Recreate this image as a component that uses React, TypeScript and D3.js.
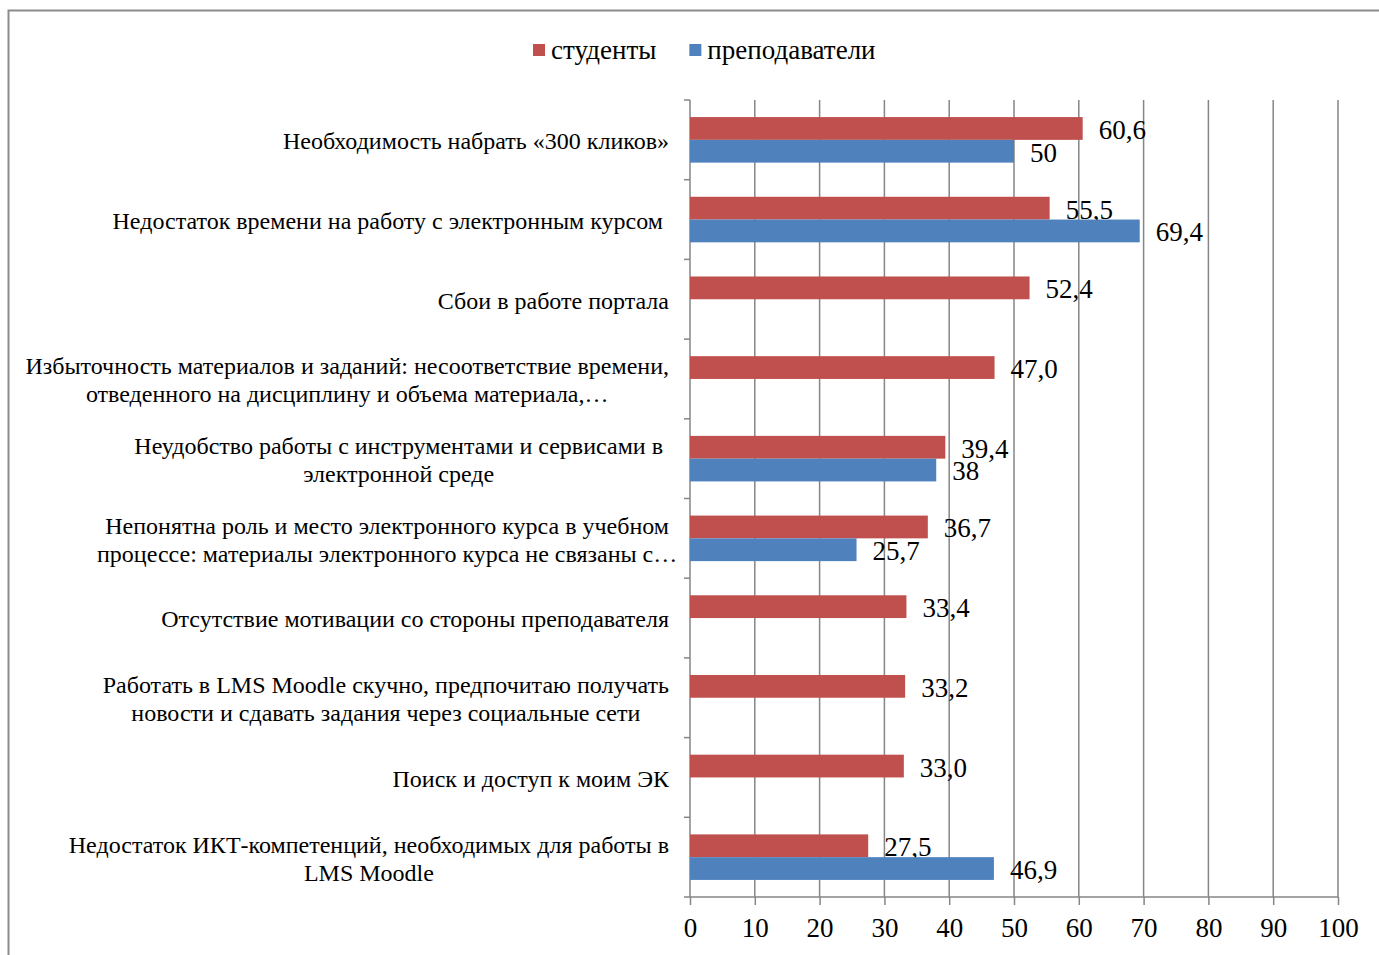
import React, { useRef, useEffect } from 'react';
import { select, scaleLinear, scaleBand, axisBottom, range } from 'd3';

// categories, top to bottom; each entry is the label lines
const categories: string[][] = [
    ['Необходимость набрать «300 кликов»'],
    ['Недостаток времени на работу с электронным курсом'],
    ['Сбои в работе портала'],
    ['Избыточность материалов и заданий: несоответствие времени,', 'отведенного на дисциплину и объема материала,…'],
    ['Неудобство работы с инструментами и сервисами в', 'электронной среде'],
    ['Непонятна роль и место электронного курса в учебном', 'процессе: материалы электронного курса не связаны с…'],
    ['Отсутствие мотивации со стороны преподавателя'],
    ['Работать в LMS Moodle скучно, предпочитаю получать', 'новости и сдавать задания через социальные сети'],
    ['Поиск и доступ к моим ЭК'],
    ['Недостаток ИКТ-компетенций, необходимых для работы в', 'LMS Moodle'],
];
// a few labels carry a trailing space in the source, which pushes them left a little
const labelShift: number[] = [0, 6, 0, 0, 6, 0, 0, 0, 0, 0];

const students: number[] = [60.6, 55.5, 52.4, 47.0, 39.4, 36.7, 33.4, 33.2, 33.0, 27.5];
const studentLabels: string[] = ['60,6', '55,5', '52,4', '47,0', '39,4', '36,7', '33,4', '33,2', '33,0', '27,5'];

const teachers: (number | null)[] = [50, 69.4, null, null, 38, 25.7, null, null, null, 46.9];
const teacherLabels: (string | null)[] = ['50', '69,4', null, null, '38', '25,7', null, null, null, '46,9'];

const xTicks: number[] = [0, 10, 20, 30, 40, 50, 60, 70, 80, 90, 100];

const seriesNames = ['студенты', 'преподаватели'];
const seriesColors = ['#C0504D', '#4F81BD'];

const W = 1379;
const H = 955;
const FONT = '"Liberation Serif", "Times New Roman", serif';

export default function App() {
    const chartRef = useRef<SVGSVGElement | null>(null);

    useEffect(() => {
        if (!chartRef.current) return;
        const root = select(chartRef.current);
        root.selectAll('*').remove();

        const gridColor = '#868686';
        const left = 690, right = 1338, top = 100, bottom = 897;

        // outer frame (left + top edges visible)
        root.append('path')
            .attr('d', `M8.5,${H} L8.5,10.5 L${W},10.5`)
            .attr('fill', 'none')
            .attr('stroke', '#8c8c8c')
            .attr('stroke-width', 2);

        const x = scaleLinear().domain([0, 100]).range([left, right]);
        const y = scaleBand<number>().domain(range(categories.length)).range([top, bottom]);
        const inner = scaleBand<number>().domain([0, 1]).range([0, y.bandwidth()]).paddingOuter(0.75).paddingInner(0);

        // vertical grid
        root.append('g')
            .selectAll('line')
            .data(xTicks.slice(1))
            .join('line')
            .attr('x1', d => x(d)).attr('x2', d => x(d))
            .attr('y1', top).attr('y2', bottom)
            .attr('stroke', gridColor).attr('stroke-width', 1.5);

        // x axis
        const xAxis = root.append('g')
            .attr('transform', `translate(0,${bottom})`)
            .call(axisBottom(x).tickValues(xTicks).tickSize(8).tickPadding(13).tickFormat(d => String(d)));
        xAxis.select('.domain').attr('stroke', gridColor).attr('stroke-width', 1.5).attr('d', `M${left},0H${right}`);
        xAxis.selectAll('.tick line').attr('stroke', gridColor).attr('stroke-width', 1.5);
        xAxis.selectAll('text')
            .attr('fill', '#000')
            .style('font-family', FONT)
            .style('font-size', '27px');

        // y axis line + category ticks
        root.append('line')
            .attr('x1', left).attr('x2', left)
            .attr('y1', top).attr('y2', bottom)
            .attr('stroke', gridColor).attr('stroke-width', 1.5);
        root.append('g')
            .selectAll('line')
            .data(range(categories.length + 1))
            .join('line')
            .attr('x1', left - 6).attr('x2', left)
            .attr('y1', i => top + i * y.step()).attr('y2', i => top + i * y.step())
            .attr('stroke', gridColor).attr('stroke-width', 1.5);

        // bars
        const series = [students, teachers];
        const labels = [studentLabels, teacherLabels];
        series.forEach((vals, s) => {
            const g = root.append('g');
            vals.forEach((v, i) => {
                if (v == null) return;
                const by = (y(i) as number) + (inner(s) as number);
                g.append('rect')
                    .attr('x', x(0))
                    .attr('y', by)
                    .attr('width', x(v) - x(0))
                    .attr('height', inner.bandwidth())
                    .attr('fill', seriesColors[s]);
                g.append('text')
                    .attr('x', x(v) + 16)
                    .attr('y', by + inner.bandwidth() / 2 + 1)
                    .attr('dy', '0.35em')
                    .style('font-family', FONT)
                    .style('font-size', '27px')
                    .attr('fill', '#000')
                    .text(labels[s][i] as string);
            });
        });

        // category labels: lines centred on each other, block right-aligned
        const labelRight = 669;
        const lineH = 28;
        categories.forEach((lines, i) => {
            const cy = (y(i) as number) + y.bandwidth() / 2 + 1;
            const t = root.append('text')
                .style('font-family', FONT)
                .style('font-size', '24px')
                .attr('fill', '#000')
                .attr('text-anchor', 'middle');
            const spans = lines.map((ln, k) =>
                t.append('tspan')
                    .attr('y', cy + (k - (lines.length - 1) / 2) * lineH)
                    .attr('dy', '0.35em')
                    .text(ln)
            );
            const w0 = (spans[0].node() as SVGTSpanElement).getComputedTextLength();
            spans.forEach(sp => sp.attr('x', labelRight - labelShift[i] - w0 / 2));
        });

        // legend
        const leg = root.append('g').attr('transform', 'translate(533,50)');
        let lx = 0;
        seriesNames.forEach((name, s) => {
            leg.append('rect').attr('x', lx).attr('y', -6).attr('width', 12).attr('height', 12).attr('fill', seriesColors[s]);
            const tx = leg.append('text')
                .attr('x', lx + 18).attr('y', 0).attr('dy', '0.35em')
                .style('font-family', FONT).style('font-size', '27px').attr('fill', '#000')
                .text(name);
            lx += 18 + (tx.node() as SVGTextElement).getComputedTextLength() + 33;
        });
    }, []);

    return (
        <div style={{ position: 'absolute', left: 0, top: 0, background: '#fff' }}>
            <svg ref={chartRef} width={W} height={H}></svg>
        </div>
    );
}
